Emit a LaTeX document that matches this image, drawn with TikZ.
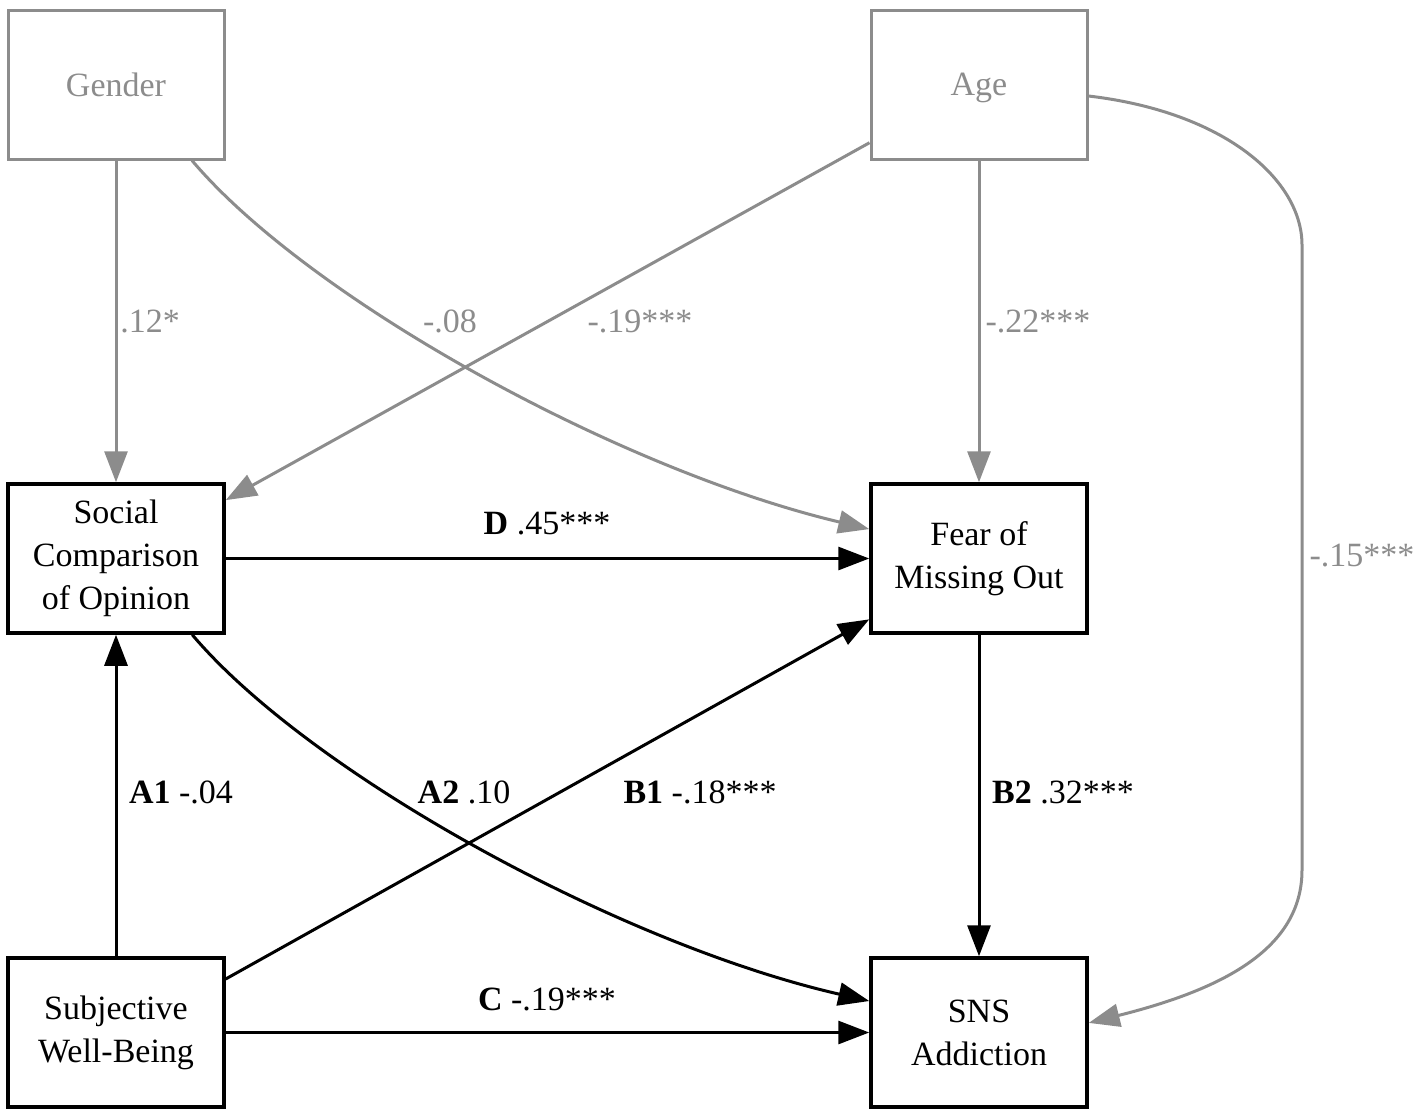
\documentclass[tikz,border=0pt]{standalone}
\usepackage{fontspec}
\setmainfont{Liberation Serif}
\usetikzlibrary{arrows.meta}
\definecolor{gr}{RGB}{140,140,140}
\tikzset{
  txt/.style={font=\fontsize{34}{43}\selectfont, align=center, inner sep=0pt},
  varbox/.style={txt, draw=black, line width=3.5pt, minimum width=216pt, minimum height=149pt},
  covbox/.style={txt, draw=gr, text=gr, line width=3pt, minimum width=216pt, minimum height=149pt},
  pathk/.style={draw=black, line width=3pt, -{Triangle[length=31pt,width=23pt]}},
  pathg/.style={draw=gr, line width=3pt, -{Triangle[length=31pt,width=23pt]}},
  lblk/.style={txt, text=black},
  lblg/.style={txt, text=gr}
}
\begin{document}
\begin{tikzpicture}[x=1pt,y=-1pt]
\useasboundingbox (0,0) rectangle (1422,1119);
% nodes
\node[covbox] (gender) at (116,84.5) {Gender};
\node[covbox] (age) at (979,84.5) {\raisebox{0pt}[\height][0pt]{Age}};
\node[varbox] (social) at (116,558.5) {Social\\Comparison\\of Opinion};
\node[varbox] (fomo) at (979,558.5) {Fear of\\Missing Out};
\node[varbox] (swb) at (116,1032.5) {Subjective\\Well-Being};
\node[varbox] (sns) at (979,1032.5) {SNS\\Addiction};
% gray control paths
\draw[pathg] (gender.south) -- (social.north);
\draw[pathg] (gender.-45.2) .. controls (310,300) and (620,470) .. (fomo.165.2);
\draw[pathg] (age.208.4) -- (social.28.4);
\draw[pathg] (age.south) -- (fomo.north);
\coordinate (r1) at (1302,245);
\coordinate (r2) at (1302,870);
\draw[pathg] (age.-6.6) .. controls (1225,112) and (1302,180) .. (r1) -- (r2)
  .. controls (1302,950) and (1220,990) .. (sns.5.6);
% black paths
\draw[pathk] (social.east) -- (fomo.west);
\draw[pathk] (social.-45.2) .. controls (310,774) and (620,944) .. (sns.164.7);
\draw[pathk] (swb.north) -- (social.south);
\draw[pathk] (swb.26.8) -- (fomo.209.7);
\draw[pathk] (fomo.south) -- (sns.north);
\draw[pathk] (swb.east) -- (sns.west);
% labels
\node[lblg] (l12) at (150,321) {.12*};
\node[lblg] (l08) at (450,321) {-.08};
\node[lblg] (l19a) at (640,321) {-.19***};
\node[lblg] (l22) at (1038,321) {-.22***};
\node[lblg] (l15) at (1362,556) {-.15***};
\node[lblk] (lD) at (547,524) {\textbf{D} .45***};
\node[lblk] (lA1) at (181,792) {\textbf{A1} -.04};
\node[lblk] (lA2) at (464,792) {\textbf{A2} .10};
\node[lblk] (lB1) at (700,792) {\textbf{B1} -.18***};
\node[lblk] (lB2) at (1063,792) {\textbf{B2} .32***};
\node[lblk] (lC) at (547,999) {\textbf{C} -.19***};
\end{tikzpicture}
\end{document}
